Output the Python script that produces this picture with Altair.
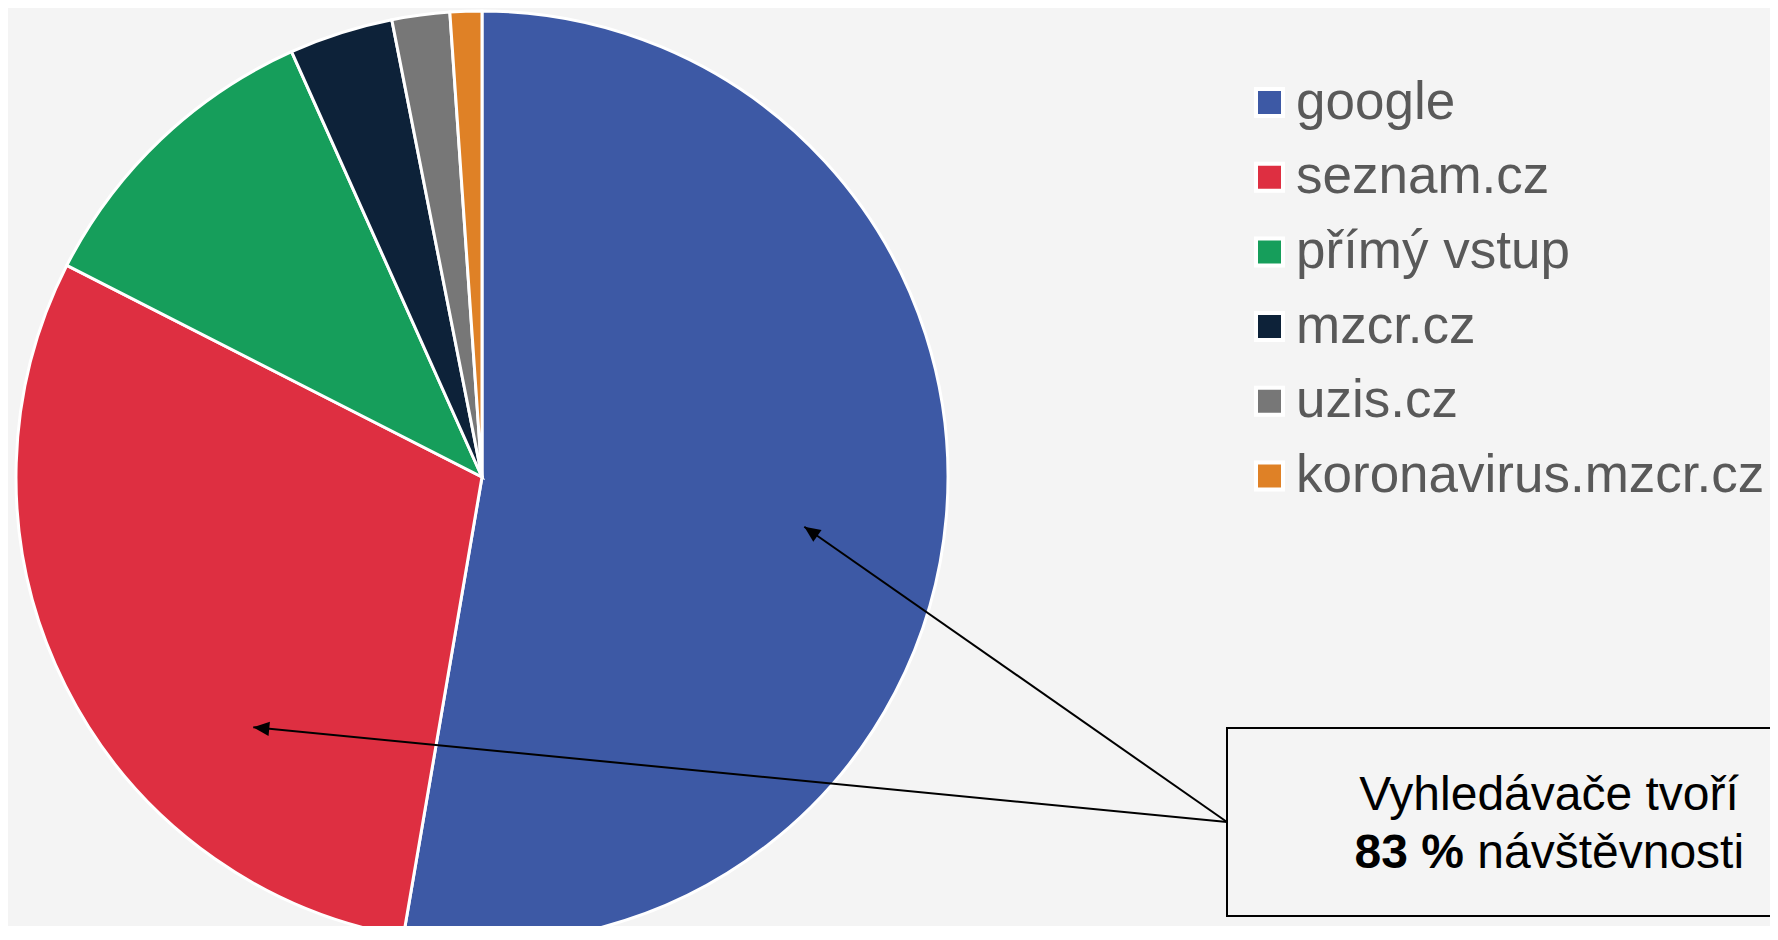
import math
import altair as alt
import pandas as pd

# ---- data ----
names = ["google", "seznam.cz", "přímý vstup", "mzcr.cz", "uzis.cz", "koronavirus.mzcr.cz"]
shares = [52.7, 29.8, 10.8, 3.6, 2.0, 1.1]
colors = ["#3D59A5", "#DE2F41", "#169E5B", "#0D2239", "#777777", "#DF8126"]

note_line1 = "Vyhledávače tvoří"
note_bold = "83 %"
note_rest = "návštěvnosti"

df = pd.DataFrame({"name": names, "value": shares, "order": list(range(len(names)))})

# ---- layout (pixels inside the chart) ----
W, H = 1762, 918
CX, CY, R = 474, 469, 466
FONT = "Liberation Sans"

pie = alt.Chart(df).mark_arc(outerRadius=R, stroke="white", strokeWidth=3).encode(
    theta=alt.Theta("value:Q", stack=True),
    color=alt.Color(
        "name:N",
        scale=alt.Scale(domain=names, range=colors),
        legend=alt.Legend(
            title=None, orient="none", legendX=1235, legendY=68, padding=0,
            symbolType="square", symbolSize=729, symbolStrokeColor="white",
            symbolStrokeWidth=4, symbolOpacity=1,
            labelFontSize=53, labelFont=FONT, labelColor="#595959",
            labelLimit=1000, labelOffset=0, rowPadding=20.7,
        ),
    ),
    order=alt.Order("order:Q"),
    x=alt.value(CX),
    y=alt.value(CY),
)

# annotation: box, arrows, text
start = (1219, 814)
tips = [(796.3, 518.7), (245.3, 719.3)]
arrows = pd.DataFrame({
    "x": [start[0]] * len(tips),
    "y": [start[1]] * len(tips),
    "x2": [t[0] for t in tips],
    "y2": [t[1] for t in tips],
    "angle": [
        (math.degrees(math.atan2(t[0] - start[0], -(t[1] - start[1]))) + 360) % 360
        for t in tips
    ],
})

one = pd.DataFrame({"k": [0]})

box = alt.Chart(one).mark_rect(fillOpacity=0, stroke="black", strokeWidth=2).encode(
    x=alt.value(1219), x2=alt.value(1900), y=alt.value(720), y2=alt.value(908)
)

lines = alt.Chart(arrows).mark_rule(color="black", strokeWidth=2).encode(
    x=alt.X("x:Q", scale=None), y=alt.Y("y:Q", scale=None),
    x2="x2:Q", y2="y2:Q",
)

heads = alt.Chart(arrows).mark_point(
    shape="M0,0 L-0.45,1 L0.45,1 Z", size=1024, filled=True, color="black", opacity=1
).encode(
    x=alt.X("x2:Q", scale=None), y=alt.Y("y2:Q", scale=None),
    angle=alt.Angle("angle:Q", scale=None),
)

t1 = alt.Chart(one).mark_text(
    text=note_line1, font=FONT, fontSize=48, color="black", align="center", baseline="alphabetic"
).encode(x=alt.value(1541), y=alt.value(802))

t2 = alt.Chart(one).mark_text(
    text=note_bold, font=FONT, fontSize=48, fontWeight="bold", color="black", align="left", baseline="alphabetic"
).encode(x=alt.value(1346.6), y=alt.value(860))

t3 = alt.Chart(one).mark_text(
    text=note_rest, font=FONT, fontSize=48, color="black", align="left", baseline="alphabetic"
).encode(x=alt.value(1469.3), y=alt.value(860))

chart = alt.layer(pie, lines, heads, box, t1, t2, t3).properties(
    width=W, height=H, background="#F4F4F4", padding=0,
    autosize=alt.AutoSizeParams(type="none"),
).configure_view(stroke=None)

chart.save("out.html", embed_options={"renderer": "svg", "actions": False})
